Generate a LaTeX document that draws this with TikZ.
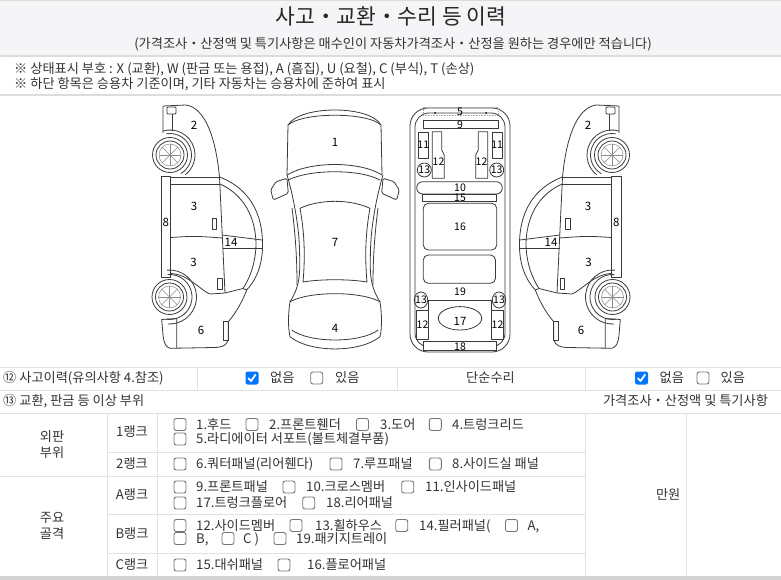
\documentclass[tikz,border=0pt]{standalone}
\usepackage{fontspec}
\setmainfont{Noto Sans CJK KR}
\definecolor{txt}{HTML}{333333}
\definecolor{hdrbg}{HTML}{F5F5F7}
\definecolor{gridc}{HTML}{E2E2E2}
\definecolor{sepc}{HTML}{DCDCDC}
\definecolor{carc}{HTML}{3A3A3A}
\definecolor{spokec}{HTML}{8A8A8A}
\definecolor{cbb}{HTML}{767676}
\definecolor{cbblue}{HTML}{0075FF}
\definecolor{botc}{HTML}{D2D2D2}
\tikzset{
  celltext/.style={inner sep=0pt, text=txt, font=\fontsize{13.2}{15}\selectfont, text height=10.5pt, text depth=2pt},
  cellw/.style={celltext, anchor=west},
  carlab/.style={inner sep=0pt, text=black, font=\fontsize{11.5}{12}\selectfont},
  carlabs/.style={inner sep=0pt, text=black, font=\fontsize{10.5}{11}\selectfont},
  carline/.style={draw=carc, line width=0.8pt, line join=round},
  spoke/.style={draw=spokec, line width=0.5pt},
  gridline/.style={draw=gridc, line width=1pt},
}
\newcommand\ckb[2]{\draw[draw=cbb, line width=0.9pt, fill=white, rounded corners=2.2pt] (#1,#2-6) rectangle (#1+12,#2+6);}
\newcommand\ckbon[2]{\fill[cbblue, rounded corners=2.2pt] (#1,#2-6.5) rectangle (#1+13,#2+6.5);
  \draw[white, line width=1.8pt, line cap=round, line join=round] (#1+3,#2+0.3) -- (#1+5.5,#2+3) -- (#1+10,#2-3.3);}
\newcommand\wheelat[1]{%
  \draw[carline] (#1) circle (17.5pt);
  \draw[carline] (#1) circle (14pt);
  \draw[spoke] (#1) circle (11pt);
  \foreach \a in {0,45,90,135} {\draw[spoke] ($(#1)+(\a:11pt)$) -- ($(#1)+(\a+180:11pt)$);}
}
\newcommand\sidecarbody{%
  \coordinate (wf) at (170,155);
  \coordinate (wr) at (169.5,297);
  % front part
  \draw[carline] (163,133) -- (163,106) -- (186,105) .. controls (206,108) and (216,140) .. (219.5,177);
  \draw[carline, rounded corners=1pt] (167,107) rectangle (176,114);
  \draw[carline] (172.5,114) -- (172.5,131);
  \draw[carline] ($(wf)+(107:25pt)$) arc[start angle=107, end angle=-52, radius=25pt];
  \draw[carline] ($(wf)+(100:21.5pt)$) arc[start angle=100, end angle=-60, radius=21.5pt];
  \wheelat{wf}
  % sill
  \draw[carline] (161,176.5) rectangle (170.5,277);
  % doors
  \draw[carline] (170.5,177) -- (219.5,177);
  \draw[carline] (170.5,184) -- (220,184);
  \draw[carline] (219.5,177) -- (225,293);
  \draw[carline] (170.5,237.5) .. controls (195,236) .. (222.5,238);
  \draw[carline] (170.5,273.5) .. controls (188,274) and (200,290) .. (210,294) -- (225,293) -- (243,288.5);
  % window arc
  \draw[carline] (219.5,177) .. controls (241,185) and (262,204) .. (262.5,243) .. controls (263,265) and (256,280) .. (246.7,290);
  \draw[carline] (220,184) .. controls (238,192) and (255,210) .. (256,243) .. controls (256,262) and (250,278) .. (243,288.5);
  \draw[carline] (243,288.5) -- (246.7,290);
  % part 14
  \draw[carline] (222,235) -- (262,240);
  \draw[carline] (222.5,248) -- (262,248);
  % handles
  \draw[carline] (212,218) rectangle (216.5,229);
  \draw[carline] (217.5,278) rectangle (222,289);
  % rear part
  \draw[carline] (246.7,290) .. controls (242,302) and (236,313) .. (228.3,321.7) -- (228.3,340) .. controls (226,346) and (222,347.3) .. (214,347.5) -- (170,348.3) .. controls (166,347) and (164,344) .. (163,335) -- (161.7,319.5) -- (176.7,318.5) -- (176.7,348.3);
  \draw[carline] (223.3,321.7) rectangle (228.3,340);
  \draw[carline] ($(wr)+(95:27pt)$) arc[start angle=95, end angle=-93, radius=27pt];
  \draw[carline] ($(wr)+(95:22.5pt)$) arc[start angle=95, end angle=-100, radius=22.5pt];
  \wheelat{wr}
  % labels
  \node[carlab] (s2) at (194,125) {2};
  \node[carlab] (s3a) at (194,206) {3};
  \node[carlab] (s8) at (165.8,222) {8};
  \node[carlab] (s14) at (231,242.5) {14};
  \node[carlab] (s3b) at (193.5,262) {3};
  \node[carlab] (s6) at (201,330) {6};
}
\usetikzlibrary{calc}
\begin{document}
\begin{tikzpicture}[x=1pt,y=-1pt]
\useasboundingbox (0,0) rectangle (781,580);
\fill[white] (0,0) rectangle (781,580);
% header
\fill[hdrbg] (0,1) rectangle (781,55);
\draw[sepc, line width=1pt] (0,0.5) -- (781,0.5);
\draw[sepc, line width=2pt] (0,56) -- (781,56);
\draw[sepc, line width=1.5pt] (0,95) -- (781,95);
\node[inner sep=0pt, text=black!85, font=\fontsize{21.5}{23}\selectfont] (title) at (391,16) {사고・교환・수리 등 이력};
\node[celltext] (sub) at (393,44) {(가격조사・산정액 및 특기사항은 매수인이 자동차가격조사・산정을 원하는 경우에만 적습니다)};
\node[cellw] (n1) at (14,69) {※ 상태표시 부호 : X (교환), W (판금 또는 용접), A (흠집), U (요철), C (부식), T (손상)};
\node[cellw] (n2) at (14,84) {※ 하단 항목은 승용차 기준이며, 기타 자동차는 승용차에 준하여 표시};

% ===== side car left
\sidecarbody
% ===== side car right (mirror)
\begin{scope}[xshift=782pt, xscale=-1]
\sidecarbody
\end{scope}

% ===== top view
\draw[carline] (288,125) .. controls (300,105) and (370,105) .. (381,125) -- (382,175) .. controls (360,161) and (310,161) .. (287,175) -- cycle;
\draw[carline] (288,125) .. controls (303,112) and (367,112) .. (381,125);
\draw[carline] (288.3,180) .. controls (310,169) and (360,169) .. (380,180);
\draw[carline, rounded corners=1.5pt] (287,178.3) -- (276,181.7) -- (270.7,190) -- (273.3,200) -- (288.3,193.3) -- cycle;
\draw[carline, rounded corners=1.5pt] (383,178.3) -- (394,181.7) -- (399.3,190) -- (396.7,200) -- (381.7,193.3) -- cycle;
\draw[carline] (287,175) .. controls (293,195) and (299,225) .. (299.5,250) .. controls (300,270) and (301,285) .. (290,301.7);
\draw[carline] (383,175) .. controls (377,195) and (371,225) .. (370.5,250) .. controls (370,270) and (369,285) .. (380,301.7);
\draw[carline] (300,208.3) .. controls (320,199) and (350,199) .. (370,208.3) .. controls (365,235) and (365,260) .. (367,282) .. controls (350,279) and (320,279) .. (303,282) .. controls (305,260) and (305,235) .. (300,208.3) -- cycle;
\draw[carline] (292,208) .. controls (296,240) and (297,262) .. (297,285);
\draw[carline] (378,208) .. controls (374,240) and (373,262) .. (373,285);
\draw[carline] (290,301.7) .. controls (310,291) and (360,291) .. (380,301.7) .. controls (382,315) and (382,328) .. (380,336.7) .. controls (360,353) and (310,353) .. (290,336.7) .. controls (288,328) and (288,315) .. (290,301.7) -- cycle;
\draw[carline] (291.7,330) .. controls (310,343.3) and (360,343.3) .. (378.3,330);
\node[carlab] (t1) at (335,142.5) {1};
\node[carlab] (t7) at (335,242) {7};
\node[carlab] (t4) at (335,328) {4};

% ===== underbody
\draw[carline, rounded corners=18pt] (410,108) rectangle (510,352);
\draw[carline, rounded corners=14pt] (415,113) rectangle (505,347);
\draw[draw=gray!70, densely dotted, line width=0.6pt] (423,107) rectangle (498,115);
\fill[black] (435,113) circle (1pt);
\fill[black] (486,113) circle (1pt);
\node[carlabs] (u5) at (460,111.5) {5};
\draw[carline, fill=white] (423,120) rectangle (498,128.5);
\node[carlabs] (u9) at (460,124.5) {9};
\draw[carline] (418,132) rectangle (428.5,158);
\draw[carline] (492,132) rectangle (502.3,158);
\node[carlabs] (u11a) at (423.3,145) {11};
\node[carlabs] (u11b) at (497.2,145) {11};
\draw[carline] (432.3,131.7) -- (441.7,131.7) -- (441.7,150) -- (444.3,155) -- (444.3,178.3) -- (432.3,178.3) -- cycle;
\draw[carline] (487.7,131.7) -- (478.3,131.7) -- (478.3,150) -- (475.7,155) -- (475.7,178.3) -- (487.7,178.3) -- cycle;
\node[carlabs] (u12a) at (438.5,162) {12};
\node[carlabs] (u12b) at (481.5,162) {12};
\draw[carline] (424.3,170) circle (7pt);
\draw[carline] (496.7,170) circle (7pt);
\node[carlabs] (u13a) at (424.3,170) {13};
\node[carlabs] (u13b) at (496.7,170) {13};
\draw[carline, rounded corners=6pt] (416.7,181.7) rectangle (502.3,194);
\node[carlabs] (u10) at (460,187.5) {10};
\draw[carline] (422.3,194) rectangle (496.7,201.7);
\node[carlabs] (u15) at (460,198) {15};
\draw[carline, rounded corners=5pt] (423.3,203.3) rectangle (496.7,250);
\node[carlabs] (u16) at (460,227) {16};
\draw[carline, rounded corners=5pt] (423.3,255) rectangle (495.5,283.3);
\node[carlabs] (u19) at (460,291.5) {19};
\draw[carline] (421,300) ellipse [x radius=6.7pt, y radius=8pt];
\draw[carline] (499,300) ellipse [x radius=6.7pt, y radius=8pt];
\node[carlabs] (u13c) at (421,300) {13};
\node[carlabs] (u13d) at (499,300) {13};
\draw[carline] (428.3,338.5) -- (428.3,300) -- (491.7,300) -- (491.7,338.5);
\draw[carline] (460,318.3) ellipse [x radius=21.7pt, y radius=11.7pt];
\node[carlab] (u17) at (460,321) {17};
\draw[carline] (416.7,310.7) rectangle (428.3,339.3);
\draw[carline] (491.7,310.7) rectangle (503.3,339.3);
\node[carlabs] (u12c) at (422.5,325) {12};
\node[carlabs] (u12d) at (497.5,325) {12};
\draw[carline, fill=white] (423.3,341.7) rectangle (496.7,350.7);
\node[carlabs] (u18) at (460,346.5) {18};

% ===== table
\draw[gridline] (0,367) -- (781,367);
\draw[gridline] (0,390.5) -- (781,390.5);
\draw[gridline] (0,413) -- (781,413);
\draw[gridline] (107,452) -- (585,452);
\draw[gridline] (0,476) -- (585,476);
\draw[gridline] (107,514.5) -- (585,514.5);
\draw[gridline] (107,553.5) -- (585,553.5);
\draw[gridline] (197,367) -- (197,390.5);
\draw[gridline] (397,367) -- (397,390.5);
\draw[gridline] (585,367) -- (585,390.5);
\draw[gridline] (585,413) -- (585,576);
\draw[gridline] (107,413) -- (107,576);
\draw[gridline] (157,413) -- (157,576);
\draw[gridline] (686,413) -- (686,576);
\fill[botc] (0,575.5) rectangle (781,580);

% row 12
\node[cellw] (r12) at (3,378.5) {⑫ 사고이력(유의사항 4.참조)};
\ckbon{245.5}{378}
\node[cellw] (r12a) at (270,378.5) {없음};
\ckb{310.7}{378}
\node[cellw] (r12b) at (335,378.5) {있음};
\node[celltext] (r12c) at (490.5,378.5) {단순수리};
\ckbon{635}{378}
\node[cellw] (r12d) at (659.5,378.5) {없음};
\ckb{697}{378}
\node[cellw] (r12e) at (720.5,378.5) {있음};
% row 13
\node[cellw] (r13) at (3,401.5) {⑬ 교환, 판금 등 이상 부위};
\node[celltext] (r13b) at (685.5,401.5) {가격조사・산정액 및 특기사항};
% groups
\node[celltext] (g1a) at (52,437) {외판};
\node[celltext] (g1b) at (52,453.5) {부위};
\node[celltext] (g2a) at (52,518) {주요};
\node[celltext] (g2b) at (52,534.5) {골격};
\node[celltext] (k1) at (132,432.5) {1랭크};
\node[celltext] (k2) at (132,464.5) {2랭크};
\node[celltext] (kA) at (132,495.5) {A랭크};
\node[celltext] (kB) at (132,534) {B랭크};
\node[celltext] (kC) at (132,565) {C랭크};
\node[celltext, anchor=east] (won) at (680.5,495) {만원};
% 1 rank
\ckb{174}{424.5} \node[cellw] at (196,425) {1.후드};
\ckb{246}{424.5} \node[cellw] at (269,425) {2.프론트휀더};
\ckb{356.5}{424.5} \node[cellw] at (380,425) {3.도어};
\ckb{429.3}{424.5} \node[cellw] at (452,425) {4.트렁크리드};
\ckb{174}{439} \node[cellw] at (196,439.5) {5.라디에이터 서포트(볼트체결부품)};
% 2 rank
\ckb{174}{464} \node[cellw] at (196,464.5) {6.쿼터패널(리어휀다)};
\ckb{330}{464} \node[cellw] at (353,464.5) {7.루프패널};
\ckb{429.3}{464} \node[cellw] at (452,464.5) {8.사이드실 패널};
% A rank
\ckb{174}{487} \node[cellw] at (196,487.5) {9.프론트패널};
\ckb{283}{487} \node[cellw] at (306,487.5) {10.크로스멤버};
\ckb{401.7}{487} \node[cellw] at (425,487.5) {11.인사이드패널};
\ckb{174}{503} \node[cellw] at (196,503.5) {17.트렁크플로어};
\ckb{302.7}{503} \node[cellw] at (326,503.5) {18.리어패널};
% B rank
\ckb{174}{525.5} \node[cellw] at (196,526) {12.사이드멤버};
\ckb{290}{525.5} \node[cellw] at (315,526) {13.휠하우스};
\ckb{395.7}{525.5} \node[cellw] at (419,526) {14.필러패널(};
\ckb{505.5}{525.5} \node[cellw] at (527.5,526) {A,};
\ckb{174}{538.5} \node[cellw] at (196,539) {B,};
\ckb{222}{538.5} \node[cellw] at (243,539) {C )};
\ckb{274}{538.5} \node[cellw] at (296,539) {19.패키지트레이};
% C rank
\ckb{174}{565} \node[cellw] at (196,565.5) {15.대쉬패널};
\ckb{278}{565} \node[cellw] at (307,565.5) {16.플로어패널};
\end{tikzpicture}
\end{document}
